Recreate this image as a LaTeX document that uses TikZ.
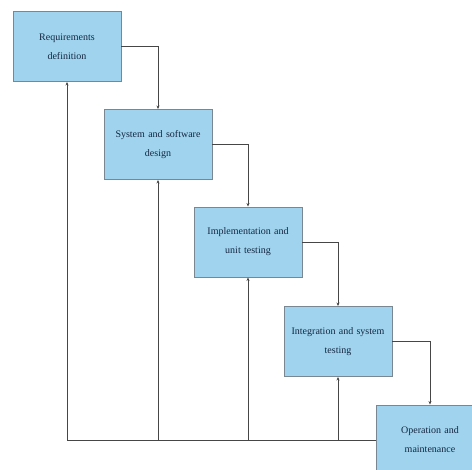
\documentclass[tikz,border=0pt]{standalone}
\usepackage{fontspec}
\setmainfont{Liberation Serif}
\usetikzlibrary{arrows.meta}
\definecolor{boxfill}{RGB}{160,212,238}
\definecolor{boxline}{RGB}{120,135,145}
\definecolor{txt}{RGB}{20,38,65}
\definecolor{conn}{RGB}{70,70,70}
\tikzset{
  phase/.style={draw=boxline, line width=0.9pt, fill=boxfill, minimum width=108pt, minimum height=70pt,
    inner sep=0pt, text width=104pt, align=center, text=txt, font=\fontsize{10}{19}\selectfont},
  flow/.style={draw=conn, line width=0.9pt, -{Stealth[length=3.5pt,width=3pt]}},
}
\begin{document}
\begin{tikzpicture}[x=1pt,y=-1pt]
\useasboundingbox (0,0) rectangle (472,470);
\clip (0,0) rectangle (472,470);
\node[phase] (b1) at (67,46.5) {Requirements\\definition};
\node[phase] (b2) at (158,144.5) {System and software\\design};
\node[phase] (b3) at (248,242) {Implementation and\\unit testing};
\node[phase] (b4) at (338,341.5) {Integration and system\\testing};
\node[phase] (b5) at (430,440) {Operation and\\maintenance};
\draw[flow] (b1.east) -| (b2.north);
\draw[flow] (b2.east) -| (b3.north);
\draw[flow] (b3.east) -| (b4.north);
\draw[flow] (b4.east) -| (b5.north);
\draw[flow] (b5.west) -| (b1.south);
\draw[flow] (b2.south |- b5.west) -- (b2.south);
\draw[flow] (b3.south |- b5.west) -- (b3.south);
\draw[flow] (b4.south |- b5.west) -- (b4.south);
\end{tikzpicture}
\end{document}
